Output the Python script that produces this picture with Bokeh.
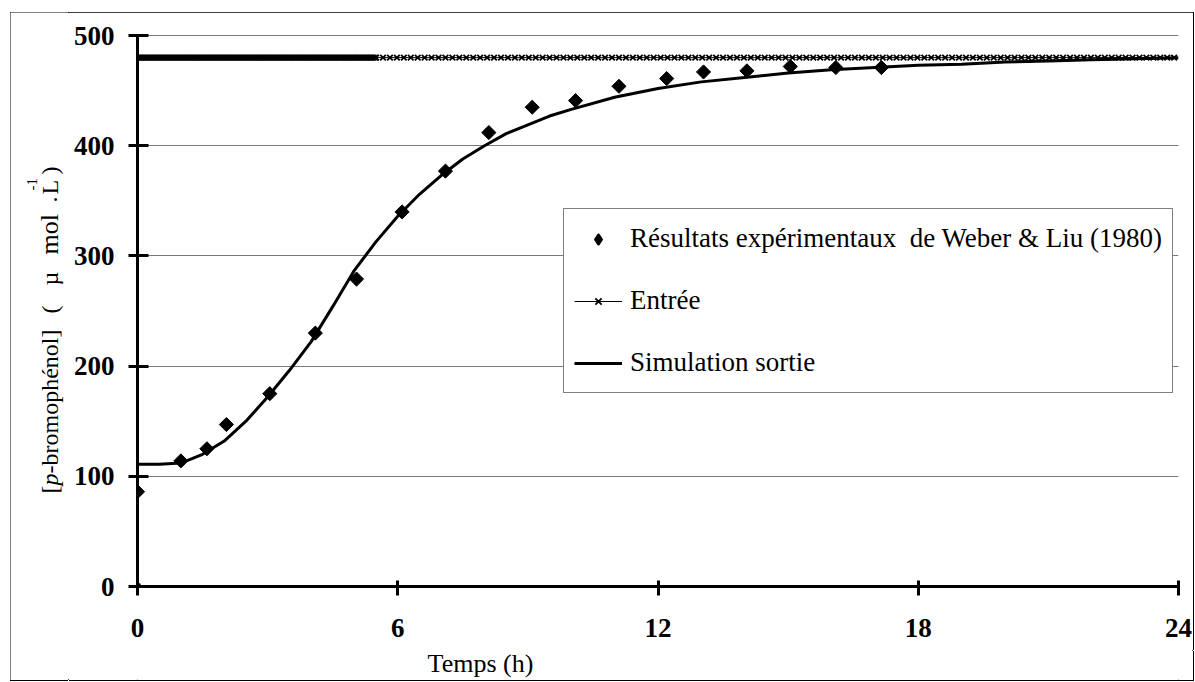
import numpy as np
from bokeh.plotting import figure
from bokeh.layouts import row, column
from bokeh.models import Range1d, FixedTicker, Legend, LegendItem, Label
from bokeh.embed import file_html
from bokeh.resources import INLINE

# ---------------- data ----------------
# Experimental results of Weber & Liu (1980): time (h), concentration (umol/L)
exp_t = [0.0, 1.0, 1.6, 2.05, 3.05, 4.1, 5.05, 6.1, 7.1, 8.1, 9.1, 10.1, 11.1,
         12.2, 13.05, 14.05, 15.05, 16.1, 17.15]
exp_c = [86, 114, 125, 147, 175, 230, 279, 340, 377, 412, 435, 441, 454,
         461, 467, 468, 472, 471, 471]

# Simulated outlet concentration
sim_t = [0, 0.5, 1.0, 1.5, 2.0, 2.5, 3.0, 3.5, 4.0, 4.5, 5.0, 5.5, 6.0, 6.5,
         7.0, 7.5, 8.0, 8.5, 9.0, 9.5, 10, 11, 12, 13, 14, 15, 16, 17, 18,
         19, 20, 21, 22, 23, 24]
sim_c = [111, 111, 112, 120, 132, 150, 172, 196, 222, 254, 287, 313, 336, 356,
         373, 388, 400, 411, 419, 427, 433, 444, 452, 458, 462, 466, 469, 471,
         473, 474, 476, 477, 478, 479, 480]

# Inlet: step from 0 to a constant 480 umol/L, sampled on the simulation grid
entree_level = 480
entree_t = np.concatenate([[0.0], np.arange(0, 5.5, 0.04), np.arange(5.5, 24.001, 0.16)])
entree_c = np.concatenate([[0.0], np.full(len(entree_t) - 1, entree_level)])

x_ticks = [0, 6, 12, 18, 24]
y_ticks = [0, 100, 200, 300, 400, 500]

legend_labels = ["Résultats expérimentaux  de Weber & Liu (1980)", "Entrée", "Simulation sortie"]
x_title = "Temps (h)"

SERIF = "Liberation Serif"

# ---------------- main figure ----------------
p = figure(width=1125, height=638, output_backend="svg", toolbar_location=None,
           x_range=Range1d(0, 24), y_range=Range1d(0, 501),
           min_border_left=69, min_border_right=15, min_border_top=22,
           min_border_bottom=64)
p.outline_line_color = None
p.background_fill_color = "white"
p.border_fill_color = "white"
p.styles = {"box-shadow": "1px 0 0 #000"}

xa = p.xaxis[0]
xa.ticker = FixedTicker(ticks=x_ticks)
xa.axis_line_width = 3
xa.major_tick_line_width = 3
xa.major_tick_in = 6
xa.major_tick_out = 9
xa.minor_tick_line_color = None
xa.major_label_text_font = SERIF
xa.major_label_text_font_style = "bold"
xa.major_label_text_font_size = "27px"
xa.major_label_text_color = "black"
xa.major_label_standoff = 23

ya = p.yaxis[0]
ya.ticker = FixedTicker(ticks=y_ticks)
ya.axis_line_width = 3
ya.major_tick_line_width = 3
ya.major_tick_in = 11
ya.major_tick_out = 9
ya.minor_tick_line_color = None
ya.major_label_text_font = SERIF
ya.major_label_text_font_style = "bold"
ya.major_label_text_font_size = "27px"
ya.major_label_text_color = "black"
ya.major_label_standoff = 14

p.xgrid.visible = False
p.ygrid.ticker = FixedTicker(ticks=y_ticks[1:])
p.ygrid.grid_line_color = "#7a7a7a"
p.ygrid.grid_line_width = 1

# legend swatch for the experimental points (legend markers are drawn unrotated);
# drawn first and small, so that the rotated squares below cover it completely
r_exp_key = p.scatter(exp_t, exp_c, marker="diamond", size=8,
                      fill_color="black", line_color="black", line_width=3,
                      line_join="round")
r_exp = p.scatter(exp_t, exp_c, marker="square", size=10, angle=np.pi / 4,
                  fill_color="black", line_color="black")
r_ent_line = p.line(entree_t, entree_c, line_color="black", line_width=1)
r_ent_pts = p.scatter(entree_t, entree_c, marker="x", size=8,
                      line_color="black", line_width=1.8)
r_sim = p.line(sim_t, sim_c, line_color="black", line_width=3)

legend = Legend(items=[
    LegendItem(label=legend_labels[0], renderers=[r_exp_key]),
    LegendItem(label=legend_labels[1], renderers=[r_ent_line, r_ent_pts]),
    LegendItem(label=legend_labels[2], renderers=[r_sim]),
], location=(426, 193))
legend.border_line_color = "black"
legend.border_line_width = 1
legend.background_fill_color = "white"
legend.background_fill_alpha = 1
legend.label_text_font = SERIF
legend.label_text_font_size = "27px"
legend.label_text_color = "black"
legend.glyph_width = 48
legend.glyph_height = 22
legend.label_height = 39
legend.label_standoff = 8
legend.spacing = 23
legend.padding = 10
legend.margin = 0
p.add_layout(legend)

# ---------------- y-axis title (separate strip, mixed styles) ----------------
ylab = figure(width=58, height=668, output_backend="svg", toolbar_location=None,
              x_range=Range1d(0, 1), y_range=Range1d(0, 1),
              x_axis_location=None, y_axis_location=None, min_border=0)
ylab.outline_line_color = None
ylab.grid.visible = False
ylab.background_fill_color = "white"
ylab.border_fill_color = "white"
ylab.styles = {"box-shadow": "0 1px 0 #000"}

# (text, start position from bottom of strip, style, size, baseline x in strip)
ylab_parts = [
    ("[", 187, "normal", "24px", 39),
    ("p", 195, "italic", "24px", 39),
    ("-bromophénol]", 207, "normal", "24px", 39),
    ("(", 367, "normal", "24px", 39),
    ("µ", 395, "normal", "24px", 39),
    ("mol", 426, "normal", "26px", 39),
    (".", 478, "normal", "24px", 39),
    ("L", 486, "normal", "24px", 39),
    ("-1", 490, "normal", "15px", 21),
    (")", 506, "normal", "24px", 39),
]
for txt, yy, style, size, xx in ylab_parts:
    ylab.add_layout(Label(x=xx, y=yy, x_units="screen", y_units="screen",
                          text=txt, angle=np.pi / 2, text_font=SERIF,
                          text_font_style=style, text_font_size=size,
                          text_align="left", text_baseline="alphabetic",
                          text_color="black"))

# ---------------- x-axis title strip ----------------
xlab = figure(width=1125, height=30, output_backend="svg", toolbar_location=None,
              x_range=Range1d(0, 1), y_range=Range1d(0, 1),
              x_axis_location=None, y_axis_location=None, min_border=0)
xlab.outline_line_color = None
xlab.grid.visible = False
xlab.background_fill_color = "white"
xlab.border_fill_color = "white"
xlab.styles = {"box-shadow": "1px 1px 0 #000"}
xlab.add_layout(Label(x=343, y=17, x_units="screen", y_units="screen",
                      text=x_title, text_font=SERIF, text_font_size="26px",
                      text_align="center", text_baseline="middle",
                      text_color="black"))

layout = row(ylab, column(p, xlab, spacing=0), spacing=0, width=1183, height=668)
layout.margin = (12, 0, 0, 10)
layout.styles = {"outline": "1px solid #000", "outline-offset": "-1px",
                 "width": "1183px", "height": "668px"}

open("out.html", "w").write(file_html(layout, INLINE))
